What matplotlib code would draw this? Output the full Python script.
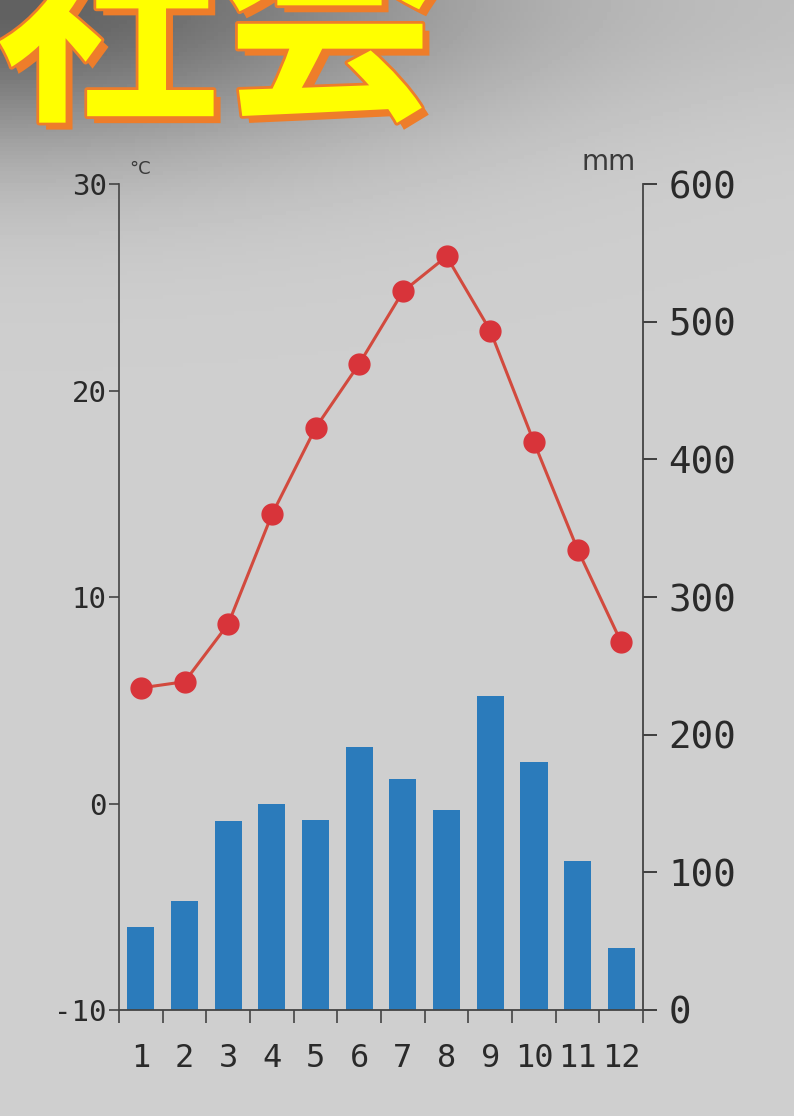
import matplotlib
matplotlib.use("Agg")
import matplotlib.pyplot as plt
import matplotlib.patheffects as pe
import numpy as np

plt.rcParams['font.family'] = ['Noto Sans CJK JP', 'DejaVu Sans']

months = ['1', '2', '3', '4', '5', '6', '7', '8', '9', '10', '11', '12']
temp_c = [5.6, 5.9, 8.7, 14.0, 18.2, 21.3, 24.8, 26.5, 22.9, 17.5, 12.3, 7.8]
rain_mm = [60, 79, 137, 150, 138, 191, 168, 145, 228, 180, 108, 45]
temp_ticks = [-10, 0, 10, 20, 30]
rain_ticks = [0, 100, 200, 300, 400, 500, 600]

fig = plt.figure(figsize=(7.94, 11.16), dpi=100)

# photo-like grey background, darker towards the top left
bg = fig.add_axes([0, 0, 1, 1], zorder=-5)
gx, gy = np.meshgrid(np.linspace(0, 1, 200), np.linspace(0, 1, 280))
shade = 0.81 - 0.38 * np.exp(-(gx / 0.55) ** 2 - (gy / 0.14) ** 2) - 0.05 * np.exp(-(gy / 0.1) ** 2)
bg.imshow(shade, cmap='gray', vmin=0, vmax=1, aspect='auto', extent=[0, 1, 0, 1], origin='upper')
bg.axis('off')

x = np.arange(1, 13)

ax2 = fig.add_axes([0.15, 0.095, 0.66, 0.74])
ax2.bar(x, rain_mm, width=0.62, color='#2b7bbb', zorder=2)
ax2.set_ylim(0, 600)
ax2.set_xlim(0.5, 12.5)
ax2.patch.set_alpha(0)
ax2.yaxis.tick_right()
ax2.set_yticks(rain_ticks)
ax2.set_yticklabels([str(v) for v in rain_ticks], family='DejaVu Sans Mono', fontsize=27, color='#2a2a2a')
ax2.tick_params(axis='y', direction='out', length=10, width=1.3, pad=8, colors='#333333', labelcolor='#2a2a2a')
ax2.set_xticks(x)
ax2.set_xticklabels(months, family='DejaVu Sans Mono', fontsize=23, color='#2a2a2a')
ax2.set_xticks(np.arange(0.5, 13, 1), minor=True)
ax2.tick_params(axis='x', which='major', length=0, pad=24)
ax2.tick_params(axis='x', which='minor', direction='out', length=9, width=1.2, colors='#444444')
for side in ['top', 'left']:
    ax2.spines[side].set_visible(False)
for side in ['right', 'bottom']:
    ax2.spines[side].set_color('#444444')
    ax2.spines[side].set_linewidth(1.3)
ax2.text(0.985, 1.01, 'mm', transform=ax2.transAxes, ha='right', va='bottom',
         family='DejaVu Sans', fontsize=20, color='#3a3a3a')

ax1 = fig.add_axes(ax2.get_position(), sharex=ax2, zorder=3)
ax1.patch.set_visible(False)
ax1.plot(x, temp_c, color='#d24a3e', linewidth=2.2, marker='o', markersize=15,
         markerfacecolor='#d8343a', markeredgecolor='#d8343a', zorder=4)
ax1.set_ylim(-10, 30)
ax1.set_yticks(temp_ticks)
ax1.set_yticklabels([str(v) for v in temp_ticks], family='DejaVu Sans Mono', fontsize=21, color='#2a2a2a')
ax1.tick_params(axis='y', direction='out', length=7, width=1.2, pad=2, colors='#444444', labelcolor='#2a2a2a')
ax1.tick_params(axis='x', which='both', bottom=False, labelbottom=False)
for side in ['top', 'right', 'bottom']:
    ax1.spines[side].set_visible(False)
ax1.spines['left'].set_color('#444444')
ax1.spines['left'].set_linewidth(1.2)
ax1.text(0.02, 1.008, '°C', transform=ax1.transAxes, ha='left', va='bottom',
         family='DejaVu Sans', fontsize=13, color='#3a3a3a')

title = fig.text(-0.005, 0.865, '社会', ha='left', va='bottom', fontsize=160,
                 fontweight='bold', color='#ffff00')
title.set_path_effects([
    pe.SimplePatchShadow(offset=(5, -5), shadow_rgbFace='#ee7d2a', alpha=1.0),
    pe.Stroke(linewidth=4, foreground='#ee7d2a'),
    pe.Normal(),
])

fig.savefig('out.png', dpi=100)
